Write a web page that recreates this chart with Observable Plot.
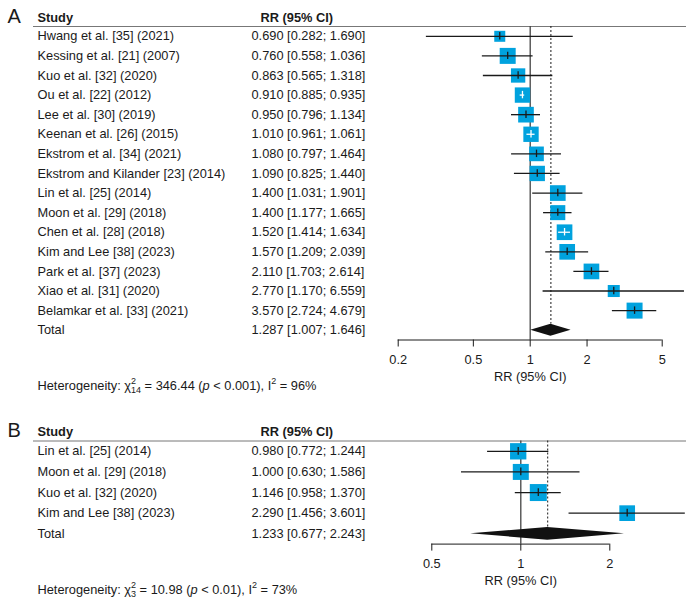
<!DOCTYPE html>
<html><head><meta charset="utf-8">
<script src="https://cdn.jsdelivr.net/npm/d3@7"></script>
<script src="https://cdn.jsdelivr.net/npm/@observablehq/plot@0.6"></script>
<style>
body{margin:0;background:#fff;}
#chart{width:695px;}
#chart svg{display:block;}
</style></head><body><div id="chart"></div>
<script>
// ---------- Panel A data ----------
const studiesA = ["Hwang et al. [35] (2021)", "Kessing et al. [21] (2007)", "Kuo et al. [32] (2020)", "Ou et al. [22] (2012)", "Lee et al. [30] (2019)", "Keenan et al. [26] (2015)", "Ekstrom et al. [34] (2021)", "Ekstrom and Kilander [23] (2014)", "Lin et al. [25] (2014)", "Moon et al. [29] (2018)", "Chen et al. [28] (2018)", "Kim and Lee [38] (2023)", "Park et al. [37] (2023)", "Xiao et al. [31] (2020)", "Belamkar et al. [33] (2021)"];
const rrA    = [0.690, 0.760, 0.863, 0.910, 0.950, 1.010, 1.080, 1.090, 1.400, 1.400, 1.520, 1.570, 2.110, 2.770, 3.570];
const lowerA = [0.282, 0.558, 0.565, 0.885, 0.796, 0.961, 0.797, 0.825, 1.031, 1.177, 1.414, 1.209, 1.703, 1.170, 2.724];
const upperA = [1.690, 1.036, 1.318, 0.935, 1.134, 1.061, 1.464, 1.440, 1.901, 1.665, 1.634, 2.039, 2.614, 6.559, 4.679];
const weightA = [3.6, 7.6, 6.1, 7.0, 7.3, 7.0, 6.4, 7.0, 7.3, 6.7, 7.3, 7.3, 7.3, 4.3, 7.6];
const totalA = [1.287, 1.007, 1.646];
const hetA = {q: "346.44", df: 14, p: "< 0.001", i2: 96};
const ticksA = [0.2, 0.5, 1, 2, 5];

// ---------- Panel B data ----------
const studiesB = ["Lin et al. [25] (2014)", "Moon et al. [29] (2018)", "Kuo et al. [32] (2020)", "Kim and Lee [38] (2023)"];
const rrB    = [0.980, 1.000, 1.146, 2.290];
const lowerB = [0.772, 0.630, 0.958, 1.456];
const upperB = [1.244, 1.586, 1.370, 3.601];
const weightB = [25.2, 24.2, 27.3, 23.3];
const totalB = [1.233, 0.677, 2.243];
const hetB = {q: "10.98", df: 3, p: "< 0.01", i2: 73};
const ticksB = [0.5, 1, 2];

const FONT = "'Liberation Sans', Arial, Helvetica, sans-serif";
const BLUE = "#00a2de";
const INK = "#1a1a1a";

function richHet(svg, str, h) {
  const el = Array.from(svg.querySelectorAll("text")).find(t => t.textContent === str);
  if (!el) return;
  while (el.firstChild) el.removeChild(el.firstChild);
  const ns = "http://www.w3.org/2000/svg";
  const add = (t, attrs = {}) => {
    const s = document.createElementNS(ns, "tspan");
    s.textContent = t;
    for (const [k, v] of Object.entries(attrs)) s.setAttribute(k, v);
    el.appendChild(s);
  };
  el.appendChild(document.createTextNode("Heterogeneity: \u03c7"));
  add("2", {"font-size": 9, dy: -5.5});
  add(String(h.df), {"font-size": 9, dx: -5, dy: 8.5});
  add(` = ${h.q} (`, {dy: -3});
  add("p", {"font-style": "italic"});
  add(` ${h.p}), I`);
  add("2", {"font-size": 9, dy: -5.5});
  add(` = ${h.i2}%`, {dy: 5.5});
}

function panel(o) {
  const n = o.studies.length;
  const rows = o.studies.map((s, i) => ({i, study: s, est: o.rr[i], lo: o.lower[i], hi: o.upper[i], w: o.weight[i]}));
  const tIdx = n;
  const fmt = v => v.toFixed(3);
  const lab = (e, l, h) => `${fmt(e)} [${fmt(l)}; ${fmt(h)}]`;
  const textRows = [...rows.map(d => ({i: d.i, study: d.study, val: lab(d.est, d.lo, d.hi)})),
                    {i: tIdx, study: "Total", val: lab(...o.total)}];
  const t0 = o.ticks[0], tN = o.ticks[o.ticks.length - 1];
  const xs = d3.scaleLog().domain([t0, tN]).range(o.xRange);
  const maxW = d3.max(o.weight);
  const side = w => Math.sqrt(w / maxW) * o.maxSide;
  const ciColor = d => (xs(d.hi) - xs(d.lo) < side(d.w)) ? "white" : INK;
  const h = o.diamondHalf;
  const [pe, plo, phi] = o.total;
  const diamond = [{x: plo, y1: tIdx, y2: tIdx}, {x: pe, y1: tIdx - h, y2: tIdx + h}, {x: phi, y1: tIdx, y2: tIdx}];
  const tk = 0.19;
  const xlabX = Math.sqrt(t0 * tN);
  const het = `Heterogeneity: chi ${o.het.df} ${o.het.q} ${o.het.p} ${o.het.i2}`;

  const svg = Plot.plot({
    width: 695, height: o.height,
    marginTop: o.top, marginBottom: o.height - o.axisY, marginLeft: 33, marginRight: 9,
    style: {fontFamily: FONT, fontSize: "12.8px", color: INK, background: "white", overflow: "visible"},
    x: {type: "log", domain: [t0, tN], range: o.xRange},
    y: {domain: [-0.5, n + 0.5], reverse: true, axis: null},
    r: {type: "sqrt", domain: [0, maxW], range: [0, o.maxSide / Math.sqrt(Math.PI)]},
    color: {type: "identity"},
    marks: [
      Plot.ruleY([-0.5], {stroke: "#777", strokeWidth: 1}),
      Plot.ruleX([1], {stroke: "#444", strokeWidth: 1.3}),
      Plot.ruleX([pe], {y1: () => -0.5, y2: () => tIdx - h, stroke: INK, strokeDasharray: "2,2", strokeWidth: 1}),
      Plot.dot(rows, {x: "est", y: "i", r: "w", symbol: "square", fill: BLUE}),
      Plot.ruleY(rows, {y: "i", x1: "lo", x2: "hi", stroke: ciColor, strokeWidth: 1.3}),
      Plot.ruleX(rows, {x: "est", y1: d => d.i - tk, y2: d => d.i + tk, stroke: ciColor, strokeWidth: 1.3}),
      Plot.areaY(diamond, {x: "x", y1: "y1", y2: "y2", fill: "#111", curve: "linear"}),
      Plot.ruleY([n + 0.5], {x1: () => t0, x2: () => tN, stroke: INK, strokeWidth: 1}),
      Plot.axisX({ticks: o.ticks, tickFormat: d => String(d), tickSize: 7, tickPadding: 8, label: null, stroke: INK, strokeWidth: 1}),
      Plot.text(textRows, {y: "i", text: "study", frameAnchor: "left", dx: 4, textAnchor: "start"}),
      Plot.text(textRows, {y: "i", text: "val", frameAnchor: "left", dx: 218, textAnchor: "start"}),
      Plot.text(["Study"], {y: () => -1, text: d => d, frameAnchor: "left", dx: 4, dy: 1, textAnchor: "start", fontWeight: "bold"}),
      Plot.text(["RR (95% CI)"], {y: () => -1, text: d => d, frameAnchor: "left", dx: 227, dy: 1, textAnchor: "start", fontWeight: "bold"}),
      Plot.text([o.letter], {y: () => -1, text: d => d, frameAnchor: "left", dx: -26, dy: 0, textAnchor: "start", fontSize: 20}),
      Plot.text([xlabX], {x: d => d, frameAnchor: "bottom", dy: 41, text: () => "RR (95% CI)"}),
      Plot.text([het], {frameAnchor: "bottom-left", dx: 4, dy: 49.5, text: d => d, textAnchor: "start"})
    ]
  });
  richHet(svg, het, o.het);
  return svg;
}

const chart = document.getElementById("chart");
chart.appendChild(panel({
  letter: "A", studies: studiesA, rr: rrA, lower: lowerA, upper: upperA, weight: weightA,
  total: totalA, het: hetA, ticks: ticksA,
  height: 400, top: 26, axisY: 339.5, xRange: [397.7, 661.7], maxSide: 16, diamondHalf: 0.31
}));
chart.appendChild(panel({
  letter: "B", studies: studiesB, rr: rrB, lower: lowerB, upper: upperB, weight: weightB,
  total: totalB, het: hetB, ticks: ticksB,
  height: 212, top: 40.5, axisY: 143.6, xRange: [431.3, 609.3], maxSide: 17, diamondHalf: 0.31
}));
</script></body></html>
